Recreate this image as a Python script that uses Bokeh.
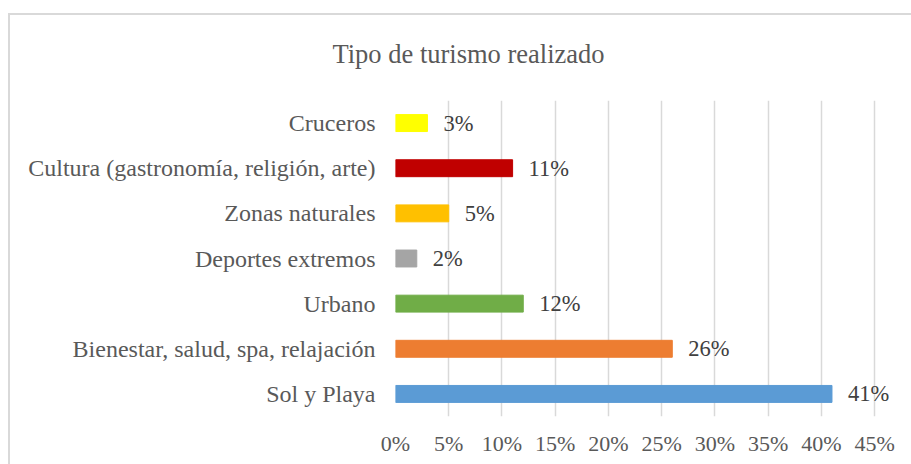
from bokeh.plotting import figure
from bokeh.models import ColumnDataSource, FactorRange, Range1d, FixedTicker, NumeralTickFormatter
from bokeh.core.properties import value
from bokeh.embed import file_html
from bokeh.resources import INLINE

categories = ["Sol y Playa", "Bienestar, salud, spa, relajación", "Urbano",
              "Deportes extremos", "Zonas naturales",
              "Cultura (gastronomía, religión, arte)", "Cruceros"]
values = [0.41, 0.26, 0.12, 0.02, 0.05, 0.11, 0.03]
labels = ["41%", "26%", "12%", "2%", "5%", "11%", "3%"]
colors = ["#5B9BD5", "#ED7D31", "#70AD47", "#A5A5A5", "#FFC000", "#C00000", "#FFFF00"]
ticks = [0.0, 0.05, 0.10, 0.15, 0.20, 0.25, 0.30, 0.35, 0.40, 0.45]
title_text = "Tipo de turismo realizado"

FONT = "Liberation Serif"

src = ColumnDataSource(dict(cat=categories, val=values, lab=labels, col=colors))

p = figure(width=903, height=460, output_backend="svg", toolbar_location=None,
           y_range=FactorRange(factors=categories), x_range=Range1d(0, 0.48),
           min_border_left=387, min_border_right=5, min_border_top=94, min_border_bottom=48)
p.margin = (4, 0, 0, 8)
p.background_fill_color = None
p.border_fill_color = None
p.styles = {
    "background": ("linear-gradient(#d9d9d9, #d9d9d9) 0px 9px / 100% 2px no-repeat, "
                   "linear-gradient(#d9d9d9, #d9d9d9) 0px 9px / 2px 100% no-repeat, #ffffff"),
}
p.outline_line_color = None

p.title.text = title_text
p.title.align = "left"
p.title.offset = -63
p.title.standoff = 64
p.title.text_font = FONT
p.title.text_font_style = "normal"
p.title.text_font_size = "26.5px"
p.title.text_color = "#595959"

p.hbar(y="cat", right="val", left=0, height=0.375, color="col", source=src)
p.text(x="val", y="cat", text="lab", source=src, x_offset=16,
       text_align="left", text_baseline="middle",
       text_font=value(FONT), text_font_size="22.5px", text_color="#404040")

p.xaxis.ticker = FixedTicker(ticks=ticks)
p.xaxis.formatter = NumeralTickFormatter(format="0%")
for ax in (p.xaxis, p.yaxis):
    ax.axis_line_color = None
    ax.major_tick_line_color = None
    ax.minor_tick_line_color = None
    ax.major_tick_out = 0
    ax.major_label_text_font = FONT
    ax.major_label_text_color = "#595959"
p.xaxis.major_label_text_font_size = "22px"
p.xaxis.major_label_standoff = 14
p.yaxis.major_label_text_font_size = "24px"
p.yaxis.major_label_standoff = 20

p.ygrid.grid_line_color = None
p.xgrid.grid_line_color = "#d9d9d9"
p.xgrid.grid_line_width = 1.5

open("out.html", "w").write(file_html(p, INLINE))
